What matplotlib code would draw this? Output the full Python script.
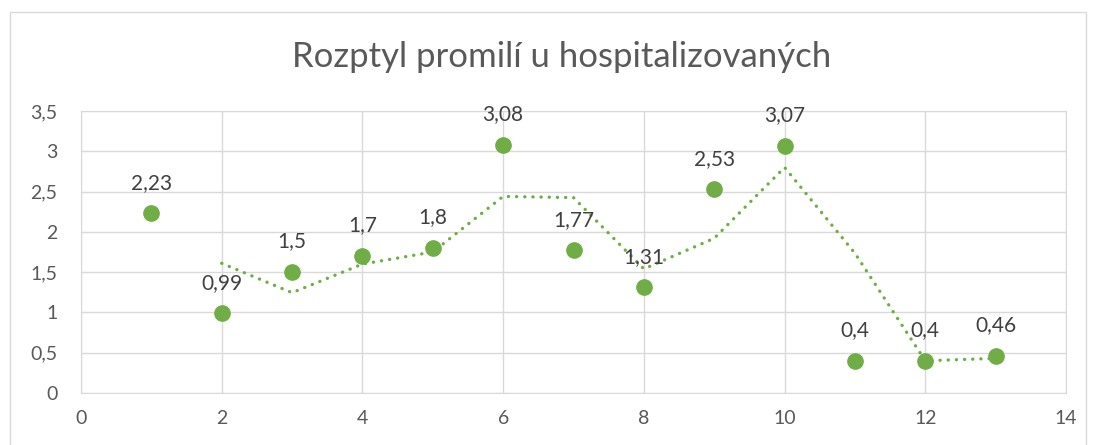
import matplotlib
matplotlib.use('Agg')
import matplotlib.pyplot as plt
from matplotlib.patches import Rectangle

x = [1, 2, 3, 4, 5, 6, 7, 8, 9, 10, 11, 12, 13]
promile = [2.23, 0.99, 1.5, 1.7, 1.8, 3.08, 1.77, 1.31, 2.53, 3.07, 0.4, 0.4, 0.46]
labels = ['2,23', '0,99', '1,5', '1,7', '1,8', '3,08', '1,77', '1,31', '2,53', '3,07', '0,4', '0,4', '0,46']
# klouzavý průměr (2 období)
trend_x = [2, 3, 4, 5, 6, 7, 8, 9, 10, 11, 12, 13]
trend_y = [1.61, 1.245, 1.6, 1.75, 2.44, 2.425, 1.54, 1.92, 2.8, 1.735, 0.4, 0.43]
xticks = [0, 2, 4, 6, 8, 10, 12, 14]
yticks = [0, 0.5, 1, 1.5, 2, 2.5, 3, 3.5]
ytick_labels = ['0', '0,5', '1', '1,5', '2', '2,5', '3', '3,5']

plt.rcParams['font.family'] = ['Lato', 'DejaVu Sans']
green = '#70AD47'
grid = '#D9D9D9'

fig = plt.figure(figsize=(10.96, 4.45), dpi=100)
fig.patches.append(Rectangle((10 / 1096, -0.01), 1076 / 1096, 1 - 12 / 445 + 0.01,
                             transform=fig.transFigure, fill=False,
                             edgecolor=grid, linewidth=1))
ax = fig.add_axes([81 / 1096, 1 - 393 / 445, (1066 - 81) / 1096, (393 - 111) / 445])

ax.plot(trend_x, trend_y, linestyle=(0, (0.05, 2.4)), dash_capstyle='round',
        solid_capstyle='round', color=green, linewidth=2.4, zorder=2)
ax.plot(x, promile, 'o', color=green, markersize=11, zorder=3)
for xi, yi, lab in zip(x, promile, labels):
    ax.annotate(lab, (xi, yi), xytext=(0, 22), textcoords='offset points',
                ha='center', va='center', fontsize=15, color='#404040')

ax.set_xlim(0, 14)
ax.set_ylim(0, 3.5)
ax.set_xticks(xticks)
ax.set_yticks(yticks)
ax.set_yticklabels(ytick_labels)
ax.grid(True, color=grid, linewidth=1)
ax.set_axisbelow(True)
for s in ax.spines.values():
    s.set_color(grid)
ax.tick_params(length=0, labelsize=14, labelcolor='#595959')
ax.tick_params(axis='y', pad=17)
ax.tick_params(axis='x', pad=12)

fig.text(0.512, 1 - 57 / 445, 'Rozptyl promilí u hospitalizovaných',
         ha='center', va='center', fontsize=25, color='#595959')

fig.savefig('out.png', dpi=100)
